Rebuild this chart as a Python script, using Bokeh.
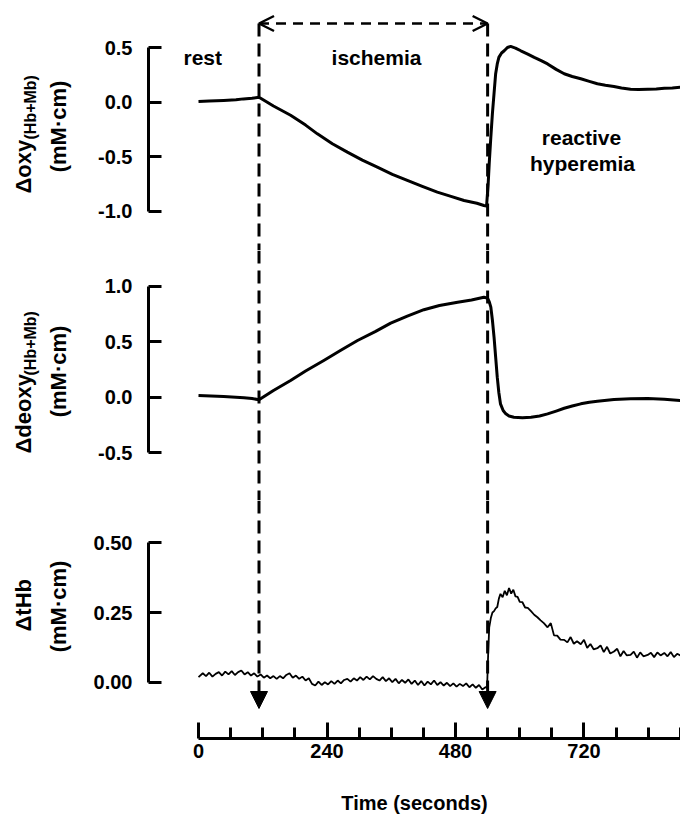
from math import pi
from bokeh.plotting import figure
from bokeh.layouts import column, row
from bokeh.models import (Range1d, FixedTicker, PrintfTickFormatter, Label, Arrow,
                          OpenHead, NormalHead, Span)
from bokeh.embed import file_html
from bokeh.resources import INLINE

# ---------------- data ----------------
oxy_t = [0, 20, 47, 70, 84, 100, 113, 140, 172, 200, 222, 250, 278, 306, 334, 362, 390, 418,
         446, 470, 496, 520, 533, 538, 541, 543, 546, 549, 552, 555, 558, 561, 566, 571, 577,
         583, 592, 602, 615, 627, 640, 652, 668, 683, 698, 714, 730, 745, 760, 776, 790, 807,
         822, 839, 855, 870, 885, 900]
oxy_v = [0.005, 0.01, 0.016, 0.022, 0.03, 0.035, 0.045, -0.035, -0.12, -0.21, -0.29, -0.38,
         -0.457, -0.53, -0.595, -0.66, -0.716, -0.77, -0.823, -0.86, -0.90, -0.925, -0.945,
         -0.95, -0.75, -0.56, -0.32, -0.10, 0.08, 0.26, 0.35, 0.41, 0.45, 0.47, 0.50, 0.51,
         0.495, 0.47, 0.44, 0.41, 0.38, 0.35, 0.30, 0.26, 0.235, 0.214, 0.19, 0.168, 0.155,
         0.144, 0.13, 0.118, 0.115, 0.118, 0.12, 0.128, 0.13, 0.137]

deoxy_t = [0, 47, 85, 100, 113, 140, 172, 200, 234, 265, 297, 330, 359, 390, 421, 450, 484,
           510, 533, 540, 543, 546, 549, 552, 555, 558, 561, 564, 569, 574, 580, 589, 605, 621,
           637, 652, 668, 683, 698, 714, 730, 745, 776, 807, 839, 870, 900]
deoxy_v = [0.015, 0.006, -0.005, -0.012, -0.024, 0.06, 0.15, 0.235, 0.33, 0.42, 0.51, 0.59,
           0.666, 0.73, 0.787, 0.825, 0.855, 0.875, 0.90, 0.89, 0.86, 0.81, 0.69, 0.54, 0.36,
           0.18, 0.04, -0.06, -0.12, -0.15, -0.17, -0.18, -0.185, -0.18, -0.17, -0.15, -0.125,
           -0.10, -0.08, -0.06, -0.045, -0.036, -0.021, -0.015, -0.012, -0.018, -0.03]

thb_t = [0, 8, 14, 20, 26, 32, 38, 44, 50, 56, 62, 68, 74, 80, 86, 92, 98, 104, 110, 116,
         122, 128, 134, 140, 146, 152, 158, 164, 170, 176, 182, 188, 194, 200, 206, 212, 218,
         224, 230, 236, 242, 248, 254, 260, 266, 272, 278, 284, 290, 296, 302, 308, 314, 320,
         326, 332, 338, 344, 350, 356, 362, 368, 374, 380, 386, 392, 398, 404, 410, 416, 422,
         428, 434, 440, 446, 452, 458, 464, 470, 476, 482, 488, 494, 500, 506, 512, 518, 524,
         530, 536, 539, 541, 543, 546, 549, 552, 555, 558, 561, 564, 568, 572, 576, 580, 584,
         588, 592, 596, 600, 605, 610, 615, 621, 627, 633, 639, 645, 652, 658, 664, 670, 676,
         683, 689, 695, 701, 707, 714, 720, 726, 732, 738, 745, 751, 757, 763, 769, 776, 782,
         788, 794, 800, 807, 813, 819, 825, 831, 839, 845, 851, 857, 863, 870, 876, 882, 888,
         894, 900]
thb_v = [0.018, 0.032, 0.022, 0.034, 0.020, 0.030, 0.036, 0.024, 0.038, 0.028, 0.040, 0.026,
         0.036, 0.042, 0.028, 0.036, 0.024, 0.032, 0.020, 0.028, 0.016, 0.024, 0.014, 0.022,
         0.012, 0.022, 0.014, 0.026, 0.032, 0.016, 0.024, 0.012, 0.020, 0.006, 0.014, -0.006,
         -0.012, 0.002, -0.010, 0.000, -0.008, 0.004, -0.006, 0.006, -0.004, 0.008, 0.012,
         0.002, 0.014, 0.006, 0.018, 0.008, 0.020, 0.010, 0.022, 0.012, 0.006, 0.018, 0.004,
         0.014, 0.000, 0.012, -0.004, 0.008, -0.002, 0.010, -0.006, 0.006, -0.010, 0.004,
         -0.012, 0.002, -0.008, 0.006, -0.010, 0.000, -0.012, -0.002, -0.014, -0.004, -0.016,
         -0.006, -0.014, -0.004, -0.018, -0.008, -0.020, -0.010, -0.026, -0.018, -0.020, 0.10,
         0.197, 0.23, 0.25, 0.255, 0.265, 0.27, 0.30, 0.317, 0.305, 0.328, 0.312, 0.338, 0.318,
         0.332, 0.308, 0.306, 0.288, 0.287, 0.268, 0.267, 0.255, 0.242, 0.233, 0.222, 0.212,
         0.197, 0.212, 0.168, 0.167, 0.153, 0.152, 0.143, 0.162, 0.138, 0.147, 0.136, 0.152,
         0.123, 0.137, 0.118, 0.122, 0.132, 0.108, 0.127, 0.103, 0.110, 0.120, 0.093, 0.112,
         0.096, 0.098, 0.110, 0.088, 0.107, 0.093, 0.098, 0.106, 0.090, 0.107, 0.096, 0.105,
         0.093, 0.108, 0.090, 0.102, 0.096]

events_t = [113, 540]                       # start / end of ischemia (s)
x_major_ticks = [0, 240, 480, 720]
x_minor_ticks = [60, 120, 180, 300, 360, 420, 540, 600, 660, 780, 840, 900]
oxy_ticks = [-1.0, -0.5, 0.0, 0.5]
deoxy_ticks = [-0.5, 0.0, 0.5, 1.0]
thb_ticks = [0.0, 0.25, 0.5]

# ---------------- layout (page origin at top-left, no body margin) ----------------
ORG = 0
LW = 80                 # width of the column holding the rotated y titles
W = 600                 # width of each chart panel
BORDER_L = 68
FRAME_L = ORG + LW + BORDER_L
FRAME_W = W - BORDER_L
XS = -93.4
XE = XS + FRAME_W / 0.5354
FONT = "Liberation Sans"


def tx(px):
    return XS + (px - FRAME_L) * (XE - XS) / FRAME_W


def make_ty(top, h, ys, ye):
    return lambda py: ye - (py - top) * (ye - ys) / h


x_range = Range1d(XS, XE)


def panel(height, ys, ye, bottom=0, with_x=False):
    p = figure(width=W, height=height, x_range=x_range, y_range=Range1d(ys, ye),
               output_backend="svg", toolbar_location=None,
               x_axis_location="below" if with_x else None, y_axis_location="left",
               min_border_left=BORDER_L, min_border_right=0, min_border_top=0,
               min_border_bottom=bottom)
    p.outline_line_color = None
    p.grid.visible = False
    p.background_fill_color = "white"
    p.border_fill_color = "white"
    return p


def title_fig(height, frame_h):
    # its frame is aligned with the neighbouring panel's frame by the row layout
    f = figure(width=LW, height=height, x_range=Range1d(0, LW), y_range=Range1d(0, frame_h),
               output_backend="svg", toolbar_location=None,
               x_axis_location=None, y_axis_location=None,
               min_border_left=0, min_border_right=0, min_border_top=0, min_border_bottom=0)
    f.outline_line_color = None
    f.grid.visible = False
    return f


def style_y(p, ticks, fmt):
    ax = p.yaxis[0]
    ax.ticker = FixedTicker(ticks=ticks)
    ax.formatter = PrintfTickFormatter(format=fmt)
    ax.bounds = (min(ticks), max(ticks))
    ax.axis_line_width = 3
    ax.axis_line_color = "black"
    ax.major_tick_line_width = 3
    ax.major_tick_line_color = "black"
    ax.major_tick_in = 13
    ax.major_tick_out = 0
    ax.minor_tick_line_color = None
    ax.major_label_text_font = FONT
    ax.major_label_text_font_style = "bold"
    ax.major_label_text_font_size = "20px"
    ax.major_label_text_color = "black"
    ax.major_label_standoff = 16


def txt(p, x, y, s, size="21px", align="center", angle=0.0):
    p.add_layout(Label(x=x, y=y, text=s, text_font=FONT, text_font_style="bold",
                       text_font_size=size, text_align=align, text_baseline="middle",
                       angle=angle, angle_units="rad", text_color="black"))


def vtxt(f, frame_h, top, px, py, s, size="22px", align="center"):
    # rotated title placed in page pixels inside the title column
    txt(f, px - ORG, frame_h - (py - top), s, size=size, align=align, angle=pi / 2)


DASH = "13 7"

# ---- panel 1: oxy ----
H1, T1 = 250, ORG
Y1S, Y1E = -1.357, 0.930
ty1 = make_ty(T1, H1, Y1S, Y1E)
p1 = panel(H1, Y1S, Y1E)
style_y(p1, oxy_ticks, "%.1f")
ya = ty1(23)
p1.segment(x0=events_t, y0=[ya] * len(events_t), x1=events_t, y1=[Y1S] * len(events_t),
           line_dash=DASH, line_width=3, color="black")
p1.add_layout(Arrow(x_start=events_t[0], y_start=ya, x_end=events_t[1], y_end=ya,
                    start=OpenHead(size=15, line_width=2.5, line_color="black"),
                    end=OpenHead(size=15, line_width=2.5, line_color="black"),
                    line_dash="10 7", line_width=2.5, line_color="black"))
p1.line(oxy_t, oxy_v, line_width=3, color="black", line_join="round")
txt(p1, tx(183), ty1(57), "rest", align="left")
txt(p1, tx(376), ty1(57), "ischemia")
txt(p1, tx(581), ty1(137), "reactive")
txt(p1, tx(582), ty1(163), "hyperemia")
l1 = title_fig(H1, H1)
vtxt(l1, H1, T1, 23, 193, "\u0394oxy", align="left")
vtxt(l1, H1, T1, 30, 139, "(Hb+Mb)", size="16px", align="left")
vtxt(l1, H1, T1, 58, 126, "(mM\u00b7cm)")

# ---- panel 2: deoxy ----
H2, T2 = 250, ORG + 250
Y2S, Y2E = -0.930, 1.320
ty2 = make_ty(T2, H2, Y2S, Y2E)
p2 = panel(H2, Y2S, Y2E)
style_y(p2, deoxy_ticks, "%.1f")
for t in events_t:
    p2.add_layout(Span(location=t, dimension="height", line_dash=DASH, line_width=3,
                       line_color="black"))
p2.line(deoxy_t, deoxy_v, line_width=3, color="black", line_join="round")
l2 = title_fig(H2, H2)
vtxt(l2, H2, T2, 23, 453, "\u0394deoxy", align="left")
vtxt(l2, H2, T2, 30, 375, "(Hb+Mb)", size="16px", align="left")
vtxt(l2, H2, T2, 58, 371, "(mM\u00b7cm)")

# ---- panel 3: tHb ----
F3, T3, B3 = 238, ORG + 500, 83
H3 = F3 + B3
Y3S, Y3E = -0.202, 0.652
ty3 = make_ty(T3, F3, Y3S, Y3E)
p3 = panel(H3, Y3S, Y3E, bottom=B3, with_x=True)
style_y(p3, thb_ticks, "%.2f")
for t in events_t:
    p3.add_layout(Arrow(x_start=t, y_start=Y3E, x_end=t, y_end=ty3(708),
                        end=NormalHead(size=17, fill_color="black", line_color="black",
                                       line_width=1),
                        line_dash=DASH, line_width=3, line_color="black"))
p3.line(thb_t, thb_v, line_width=1.8, color="black")
l3 = title_fig(H3, F3)
vtxt(l3, F3, T3, 23, 631, "\u0394tHb", align="left")
vtxt(l3, F3, T3, 58, 606, "(mM\u00b7cm)")

xa = p3.xaxis[0]
xa.ticker = FixedTicker(ticks=x_major_ticks, minor_ticks=x_minor_ticks)
xa.bounds = (0, 900)
xa.axis_line_width = 3
xa.axis_line_color = "black"
xa.major_tick_line_width = 3
xa.minor_tick_line_width = 3
xa.major_tick_line_color = "black"
xa.minor_tick_line_color = "black"
xa.major_tick_in = 16
xa.major_tick_out = 0
xa.minor_tick_in = 11
xa.minor_tick_out = 0
xa.major_label_text_font = FONT
xa.major_label_text_font_style = "bold"
xa.major_label_text_font_size = "20px"
xa.major_label_text_color = "black"
xa.major_label_standoff = 5
xa.axis_label = "Time (seconds)"
xa.axis_label_text_font = FONT
xa.axis_label_text_font_style = "bold"
xa.axis_label_text_font_size = "20px"
xa.axis_label_text_color = "black"
xa.axis_label_standoff = 31

layout = column(row(l1, p1), row(l2, p2), row(l3, p3))
open("out.html", "w").write(file_html(layout, INLINE))
